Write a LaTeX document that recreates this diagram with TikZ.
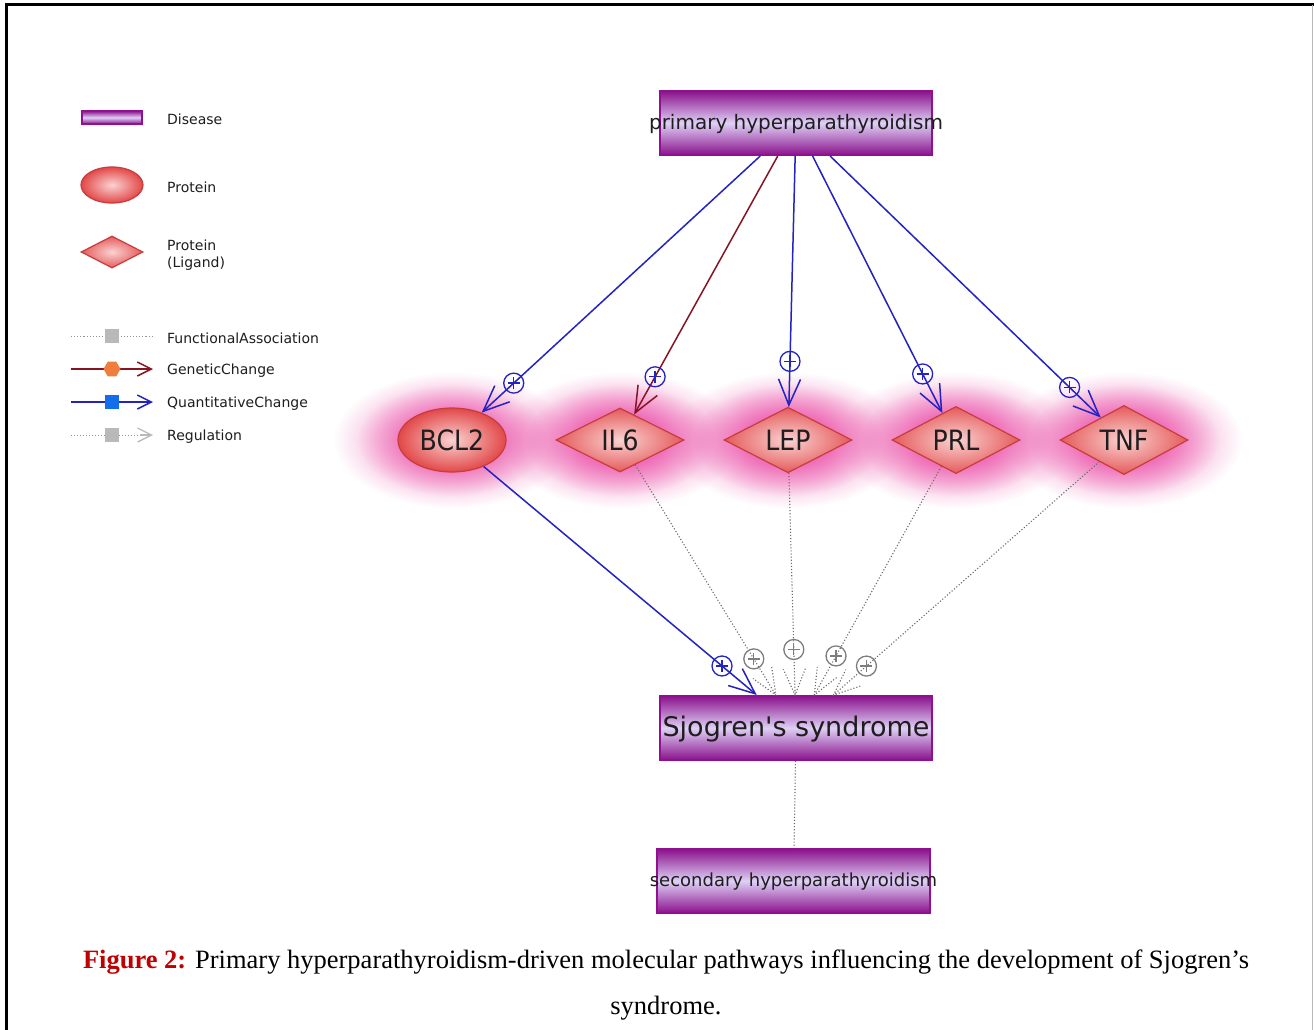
\documentclass[tikz,border=0pt]{standalone}
\usepackage{fontspec}
\setmainfont{DejaVu Sans}
\newfontfamily\dv{DejaVu Sans}
\newfontfamily\capfont{Liberation Serif}
\usetikzlibrary{arrows.meta,shapes.geometric,fadings,calc,decorations.markings}
\tikzfading[name=glowfade, inner color=transparent!0, outer color=transparent!100]
\definecolor{dpurple}{RGB}{138,18,140}
\definecolor{lpurple}{RGB}{222,208,245}
\definecolor{pborder}{RGB}{145,15,145}
\definecolor{rfill}{RGB}{226,72,72}
\definecolor{rlight}{RGB}{250,210,210}
\definecolor{rborder}{RGB}{200,60,60}
\definecolor{eblue}{RGB}{35,35,195}
\definecolor{ered}{RGB}{135,20,35}
\definecolor{egray}{RGB}{105,105,105}
\definecolor{mgray}{RGB}{125,125,125}
\definecolor{lgray}{RGB}{185,185,185}
\definecolor{glow}{RGB}{232,45,152}
\definecolor{capred}{RGB}{192,0,0}
\definecolor{txt}{RGB}{30,30,30}
\definecolor{sqblue}{RGB}{20,110,235}
\definecolor{hexor}{RGB}{240,125,60}
\tikzset{
  disease/.style={rectangle, draw=pborder, line width=2pt, top color=dpurple, bottom color=dpurple, middle color=lpurple, inner sep=0pt},
  protein/.style={ellipse, draw=rborder, line width=1.2pt, inner color=rlight, outer color=rfill, inner sep=0pt},
  ligand/.style={diamond, draw=rborder, line width=1.2pt, inner color=rlight, outer color=rfill!90!white, inner sep=0pt},
  glowfill/.style={fill=glow, path fading=glowfade},
  nlabel/.style={text=txt, font=\fontsize{28}{32}\selectfont},
  dlabel/.style={text=txt, inner sep=0pt},
  lbl/.style={text=txt, font=\fontsize{14}{17}\selectfont, anchor=west, inner sep=0pt, align=left},
  qc/.style={draw=eblue, line width=1.5pt, -{Straight Barb[length=26pt,width=22pt,line width=1.5pt]}},
  gc/.style={draw=ered, line width=1.5pt, -{Straight Barb[length=26pt,width=22pt,line width=1.5pt]}},
  reg/.style={draw=egray, line width=1.1pt, dotted, postaction={decorate},
    decoration={markings, mark=at position 1 with {\draw[egray, line width=1.1pt, dotted, -] (-26pt,11pt) -- (0pt,0pt) -- (-26pt,-11pt);}}},
  fa/.style={draw=egray, line width=1.1pt, dotted},
  pm/.style={circle, draw=#1, solid, line width=1.3pt, minimum size=20pt, inner sep=0pt,
    path picture={\draw[#1, solid, -, line width=1.3pt] ([xshift=-6pt]path picture bounding box.center) -- ([xshift=6pt]path picture bounding box.center) ([yshift=-6pt]path picture bounding box.center) -- ([yshift=6pt]path picture bounding box.center);}},
  sq/.style={rectangle, minimum size=14pt, inner sep=0pt},
}
\begin{document}
\begin{tikzpicture}[x=1pt,y=-1pt]
\useasboundingbox (0,0) rectangle (1314,1030);
\fill[white] (0,0) rectangle (1314,1030);
% frame
\draw[line width=3pt] (6,1030) -- (6,5) -- (1314,5);
\draw[lgray, line width=1pt] (1312.5,5) -- (1312.5,1030);

% glow
\foreach \x in {452,620,788,956,1124} {
  \fill[glowfill, opacity=0.75] (\x,440) ellipse (118 and 68);
  \fill[glowfill, opacity=0.75] (\x,440) ellipse (95 and 56);
}

% main nodes
\node[disease, minimum width=272pt, minimum height=64pt] (top) at (796,123) {};
\node[dlabel, font=\fontsize{20}{24}\selectfont] (toplbl) at (796,124) {primary hyperparathyroidism};
\node[disease, minimum width=272pt, minimum height=64pt] (sj) at (796,728) {};
\node[dlabel, font=\dv\fontsize{27}{32}\selectfont] (sjlbl) at (796,729) {Sjogren's syndrome};
\node[disease, minimum width=273pt, minimum height=64pt] (sec) at (793.5,881) {};
\node[dlabel, font=\fontsize{18}{22}\selectfont] (seclbl) at (793.5,882) {secondary hyperparathyroidism};

\node[protein, minimum width=108pt, minimum height=64pt, nlabel] (bcl2) at (452,440) {\scalebox{0.9}[1]{BCL2}};
\node[ligand, minimum width=128pt, minimum height=64pt, nlabel] (il6) at (620,440) {\scalebox{0.9}[1]{IL6}};
\node[ligand, minimum width=128pt, minimum height=64pt, nlabel] (lep) at (788,440) {\scalebox{0.9}[1]{LEP}};
\node[ligand, minimum width=128pt, minimum height=64pt, nlabel] (prl) at (956,440) {\scalebox{0.9}[1]{PRL}};
\node[ligand, minimum width=128pt, minimum height=64pt, nlabel] (tnf) at (1124,440) {\scalebox{0.9}[1]{TNF}};

% edges from top
\draw[qc] (top) -- node[pos=0.885, pm=eblue] (m1) {} (bcl2);
\draw[gc] (top) -- node[pos=0.854, pm=eblue] (m2) {} (il6);
\draw[qc] (top) -- node[pos=0.818, pm=eblue] (m3) {} (lep);
\draw[qc] (top) -- node[pos=0.848, pm=eblue] (m4) {} (prl);
\draw[qc] (top) -- node[pos=0.885, pm=eblue] (m5) {} (tnf);
% edges to Sjogren
\draw[qc] (bcl2) -- node[pos=0.873, pm=eblue] (m6) {} (sj);
\draw[reg] (il6) -- node[pos=0.843, pm=mgray] (m7) {} (sj);
\draw[reg] (lep) -- node[pos=0.795, pm=mgray] (m8) {} (sj);
\draw[reg] (prl) -- node[pos=0.829, pm=mgray] (m9) {} (sj);
\draw[reg] (tnf) -- node[pos=0.876, pm=mgray] (m10) {} (sj);
\draw[fa] (sj) -- (sec);

% legend
\node[disease, line width=1.5pt, minimum width=60pt, minimum height=13pt] (lgd) at (112,117.5) {};
\node[lbl] (lgdt) at (167,119) {Disease};
\node[protein, minimum width=62pt, minimum height=36pt] (lgp) at (112,185) {};
\node[lbl] (lgpt) at (167,187) {Protein};
\node[ligand, minimum width=62pt, minimum height=32pt] (lgl) at (112,252) {};
\node[lbl] (lglt) at (167,255) {Protein\\(Ligand)};

\coordinate (fa1) at (71,336); \coordinate (fa2) at (153,336);
\draw[fa, line width=1pt, draw=lgray!80!black] (fa1) -- (fa2);
\node[sq, fill=lgray] (fasq) at (112,336) {};
\node[lbl] (fat) at (167,338) {FunctionalAssociation};

\coordinate (gc1) at (71,369); \coordinate (gc2) at (153,369);
\draw[draw=ered, line width=1.5pt, -{Straight Barb[length=14pt,width=14pt,line width=1.5pt]}] (gc1) -- (gc2);
\node[regular polygon, regular polygon sides=6, fill=hexor, minimum size=17pt, inner sep=0pt] (gchex) at (112,369) {};
\node[lbl] (gct) at (167,371) {GeneticChange};

\coordinate (qc1) at (71,402); \coordinate (qc2) at (153,402);
\draw[draw=eblue, line width=1.5pt, -{Straight Barb[length=14pt,width=14pt,line width=1.5pt]}] (qc1) -- (qc2);
\node[sq, fill=sqblue] (qcsq) at (112,402) {};
\node[lbl] (qct) at (167,404) {QuantitativeChange};

\coordinate (rg1) at (71,435); \coordinate (rg2) at (153,435);
\coordinate (rgm) at (140,435);
\draw[draw=lgray!80!black, line width=1pt, dotted] (rg1) -- (rgm);
\draw[draw=lgray, line width=1.3pt, -{Straight Barb[length=14pt,width=14pt,line width=1.3pt]}] (rgm) -- (rg2);
\node[sq, fill=lgray] (rgsq) at (112,435) {};
\node[lbl] (rgt) at (167,437) {Regulation};

% caption
\node[font=\capfont\fontsize{26.5}{31}\selectfont, inner sep=0pt] (cap1) at (666,962) {\textcolor{capred}{\textbf{Figure 2:}} Primary hyperparathyroidism-driven molecular pathways influencing the development of Sjogren’s};
\node[font=\capfont\fontsize{26.5}{31}\selectfont, inner sep=0pt] (cap2) at (666,1008) {syndrome.};
\end{tikzpicture}
\end{document}
